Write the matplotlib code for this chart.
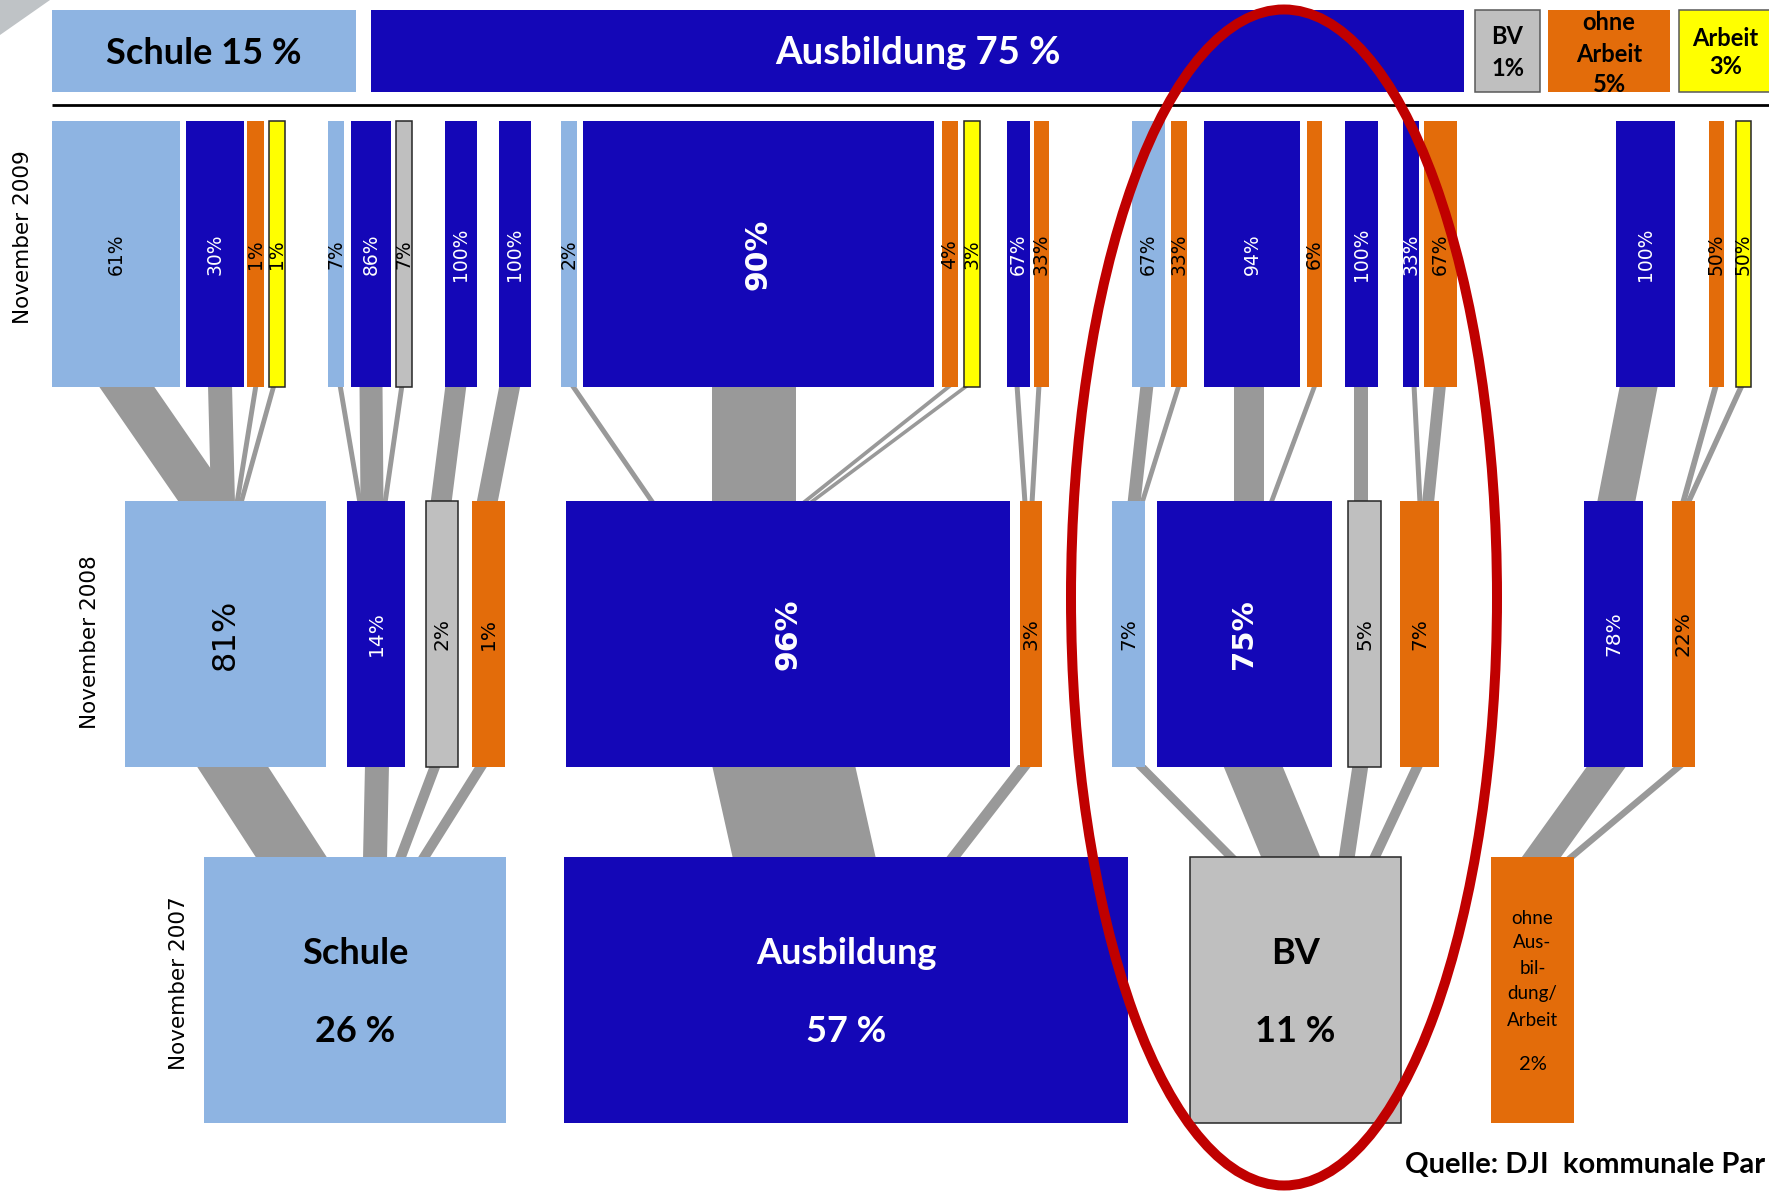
import matplotlib
matplotlib.use("Agg")
import matplotlib.pyplot as plt
from matplotlib.patches import Rectangle, Polygon, Ellipse

# ---------------------------------------------------------------- data
state_colors = {"Schule": "#8EB4E2", "Ausbildung": "#1407B7", "BV": "#BFBFBF",
                "ohne": "#E36C0A", "Arbeit": "#FFFF00"}

# status in November 2009 (all young people)
header_states = ["Schule", "Ausbildung", "BV", "ohne", "Arbeit"]
header_titles = ["Schule", "Ausbildung", "BV", "ohne\nArbeit", "Arbeit"]
header_shares = [15, 75, 1, 5, 3]

# starting status November 2007
states_2007 = ["Schule", "Ausbildung", "BV", "ohne"]
titles_2007 = ["Schule", "Ausbildung", "BV", "ohne\nAus-\nbil-\ndung/\nArbeit"]
shares_2007 = [26, 57, 11, 2]

# November 2008, share within each 2007 group
states_2008 = ["Schule", "Ausbildung", "BV", "ohne",
               "Ausbildung", "ohne",
               "Schule", "Ausbildung", "BV", "ohne",
               "Ausbildung", "ohne"]
shares_2008 = [81, 14, 2, 1, 96, 3, 7, 75, 5, 7, 78, 22]
parent_2008 = [0, 0, 0, 0, 1, 1, 2, 2, 2, 2, 3, 3]

# November 2009, share within each 2008 box
states_2009 = ["Schule", "Ausbildung", "ohne", "Arbeit",
               "Schule", "Ausbildung", "BV",
               "Ausbildung",
               "Ausbildung",
               "Schule", "Ausbildung", "ohne", "Arbeit",
               "Ausbildung", "ohne",
               "Schule", "ohne",
               "Ausbildung", "ohne",
               "Ausbildung",
               "Ausbildung", "ohne",
               "Ausbildung",
               "ohne", "Arbeit"]
shares_2009 = [61, 30, 1, 1, 7, 86, 7, 100, 100, 2, 90, 4, 3,
               67, 33, 67, 33, 94, 6, 100, 33, 67, 100, 50, 50]
parent_2009 = [0, 0, 0, 0, 1, 1, 1, 2, 3, 4, 4, 4, 4,
               5, 5, 6, 6, 7, 7, 8, 9, 9, 10, 11, 11]

year_labels = ["November 2009", "November 2008", "November 2007"]
source_text = "Quelle: DJI  kommunale Par"

# ---------------------------------------------------------------- layout (pixel canvas)
W, H = 1769, 1191
header_y = (10, 92)
rows_y = {2009: (121, 387), 2008: (501, 767), 2007: (857, 1123)}

header_x = [(52, 356), (371, 1464), (1475, 1540), (1548, 1670), (1679, 1772)]
header_line_y = [[52], [52], [35, 67], [22, 53, 83], [37, 65]]
header_size = [26, 27.5, 17, 17, 17]

x_2007 = [(204, 506), (564, 1128), (1190, 1401), (1491, 1574)]
x_2008 = [(125, 326), (347, 405), (426, 458), (472, 505), (566, 1010), (1020, 1042),
          (1112, 1145), (1157, 1332), (1348, 1381), (1400, 1439), (1584, 1643), (1672, 1695)]
x_2009 = [(52, 180), (186, 244), (247, 264), (269, 285), (328, 344), (351, 391), (396, 412),
          (445, 477), (499, 531), (561, 577), (583, 934), (942, 958), (964, 980),
          (1007, 1030), (1034, 1049), (1132, 1165), (1171, 1187), (1204, 1300), (1307, 1322),
          (1345, 1378), (1403, 1419), (1424, 1457), (1616, 1675), (1709, 1724), (1736, 1751)]

# connector bands: (x at upper end, x at lower end, horizontal width)
bands_2009 = [(125.5, 207, 55), (220, 223, 24), (256, 237, 5), (274, 241, 5),
              (340, 360, 5), (371, 372, 23), (402, 385, 5),
              (456, 441, 21), (510, 487, 21),
              (572, 653, 6), (754, 754, 84), (951, 803, 6), (968, 810, 6),
              (1017, 1025, 5), (1039, 1032, 5),
              (1147, 1134, 13), (1179, 1142, 5),
              (1249, 1249, 30), (1315, 1271, 5),
              (1361, 1361, 14),
              (1414, 1420, 5), (1440, 1428, 12),
              (1639, 1616, 38),
              (1716, 1683, 6), (1742, 1688, 6)]
bands_2008 = [(231.5, 292.5, 71), (377, 375, 24), (435.5, 400, 11), (482, 423, 12),
              (783.5, 804.5, 143), (1025, 952, 14),
              (1139.5, 1233, 12), (1252.5, 1291.5, 59), (1360.5, 1346.5, 16), (1418, 1374, 11),
              (1607.5, 1540, 39), (1681, 1569, 10)]

big_2009 = {10: ("bold", 21.5)}
big_2008 = {0: ("normal", 23), 4: ("bold", 21.5), 7: ("bold", 21)}

outlined = {"BV", "Arbeit"}
BAND = "#999999"
CAL = "Lato"

# ---------------------------------------------------------------- drawing
fig = plt.figure(figsize=(W / 100, H / 100), dpi=100)
ax = fig.add_axes([0, 0, 1, 1])
ax.set_xlim(0, W)
ax.set_ylim(H, 0)
ax.axis("off")


def box(x0, x1, y0, y1, state, ec=None):
    edge = ec if ec else ("#262626" if state in outlined else "none")
    ax.add_patch(Rectangle((x0, y0), x1 - x0, y1 - y0, facecolor=state_colors[state],
                           edgecolor=edge, linewidth=1.1, zorder=3))


def band(xt, xb, w, yt, yb):
    ax.add_patch(Polygon([(xt - w / 2, yt), (xt + w / 2, yt), (xb + w / 2, yb), (xb - w / 2, yb)],
                         closed=True, facecolor=BAND, edgecolor="none", zorder=1))


def txt_color(state):
    return "white" if state == "Ausbildung" else "black"


# corner mark
ax.add_patch(Polygon([(0, 0), (50, 0), (0, 35)], closed=True, facecolor="#BFC3C6",
                     edgecolor="none", zorder=2))

# header row (2009 totals)
for i, st in enumerate(header_states):
    x0, x1 = header_x[i]
    ec = "#595959" if st in outlined else None
    box(x0, x1, header_y[0], header_y[1], st, ec=ec)
    cx = (x0 + x1) / 2
    if i < 2:
        lines = [f"{header_titles[i]} {header_shares[i]} %"]
    else:
        lines = header_titles[i].split("\n") + [f"{header_shares[i]}%"]
    for ln, yy in zip(lines, header_line_y[i]):
        ax.text(cx, yy + 1, ln, ha="center", va="center", fontsize=header_size[i], family=CAL,
                fontweight="bold", color=txt_color(st), zorder=5)

ax.plot([52, W], [105, 105], color="black", lw=2.0, solid_capstyle="butt", zorder=2)

# connector bands
y09 = rows_y[2009]
y08 = rows_y[2008]
y07 = rows_y[2007]
for xt, xb, w in bands_2009:
    band(xt, xb, w, y09[1] - 2, y08[0] + 2)
for xt, xb, w in bands_2008:
    band(xt, xb, w, y08[1] - 2, y07[0] + 2)

# 2009 boxes
for i, st in enumerate(states_2009):
    x0, x1 = x_2009[i]
    box(x0, x1, y09[0], y09[1], st)
    weight, size = big_2009.get(i, ("normal", 13.5))
    ax.text((x0 + x1) / 2, (y09[0] + y09[1]) / 2, f"{shares_2009[i]}%", rotation=90,
            ha="center", va="center", fontsize=size, fontweight=weight,
            family="DejaVu Sans", color=txt_color(st), zorder=5)

# 2008 boxes
for i, st in enumerate(states_2008):
    x0, x1 = x_2008[i]
    box(x0, x1, y08[0], y08[1], st)
    weight, size = big_2008.get(i, ("normal", 14.5))
    ax.text((x0 + x1) / 2, (y08[0] + y08[1]) / 2, f"{shares_2008[i]}%", rotation=90,
            ha="center", va="center", fontsize=size, fontweight=weight,
            family="DejaVu Sans", color=txt_color(st), zorder=5)

# 2007 boxes
for i, st in enumerate(states_2007):
    x0, x1 = x_2007[i]
    box(x0, x1, y07[0], y07[1], st)
    cx = (x0 + x1) / 2
    if st == "ohne":
        for ln, yy in zip(titles_2007[i].split("\n"), [918, 943, 968, 994, 1020]):
            ax.text(cx, yy, ln, ha="center", va="center", fontsize=13.5, family=CAL,
                    color="black", zorder=5)
        ax.text(cx, 1065, f"{shares_2007[i]}%", ha="center", va="center", fontsize=14.5,
                family=CAL, color="black", zorder=5)
    else:
        ax.text(cx, 954, titles_2007[i], ha="center", va="center", fontsize=26, family=CAL,
                fontweight="bold", color=txt_color(st), zorder=5)
        ax.text(cx, 1031, f"{shares_2007[i]} %", ha="center", va="center", fontsize=26,
                family=CAL, fontweight="bold", color=txt_color(st), zorder=5)

# year captions
for lab, (x, y) in zip(year_labels, [(23, 237), (90, 642), (179, 983)]):
    ax.text(x, y, lab, rotation=90, ha="center", va="center", fontsize=15.5,
            family="DejaVu Sans", color="black", zorder=5)

# highlight around the BV cohort
ax.add_patch(Ellipse((1284, 597.5), 426, 1176, fill=False, edgecolor="#C00000",
                     linewidth=7.2, zorder=6))

ax.text(1405, 1165, source_text, ha="left", va="center", fontsize=21, family=CAL,
        fontweight="bold", color="black", zorder=5)

fig.savefig("out.png", dpi=100)
